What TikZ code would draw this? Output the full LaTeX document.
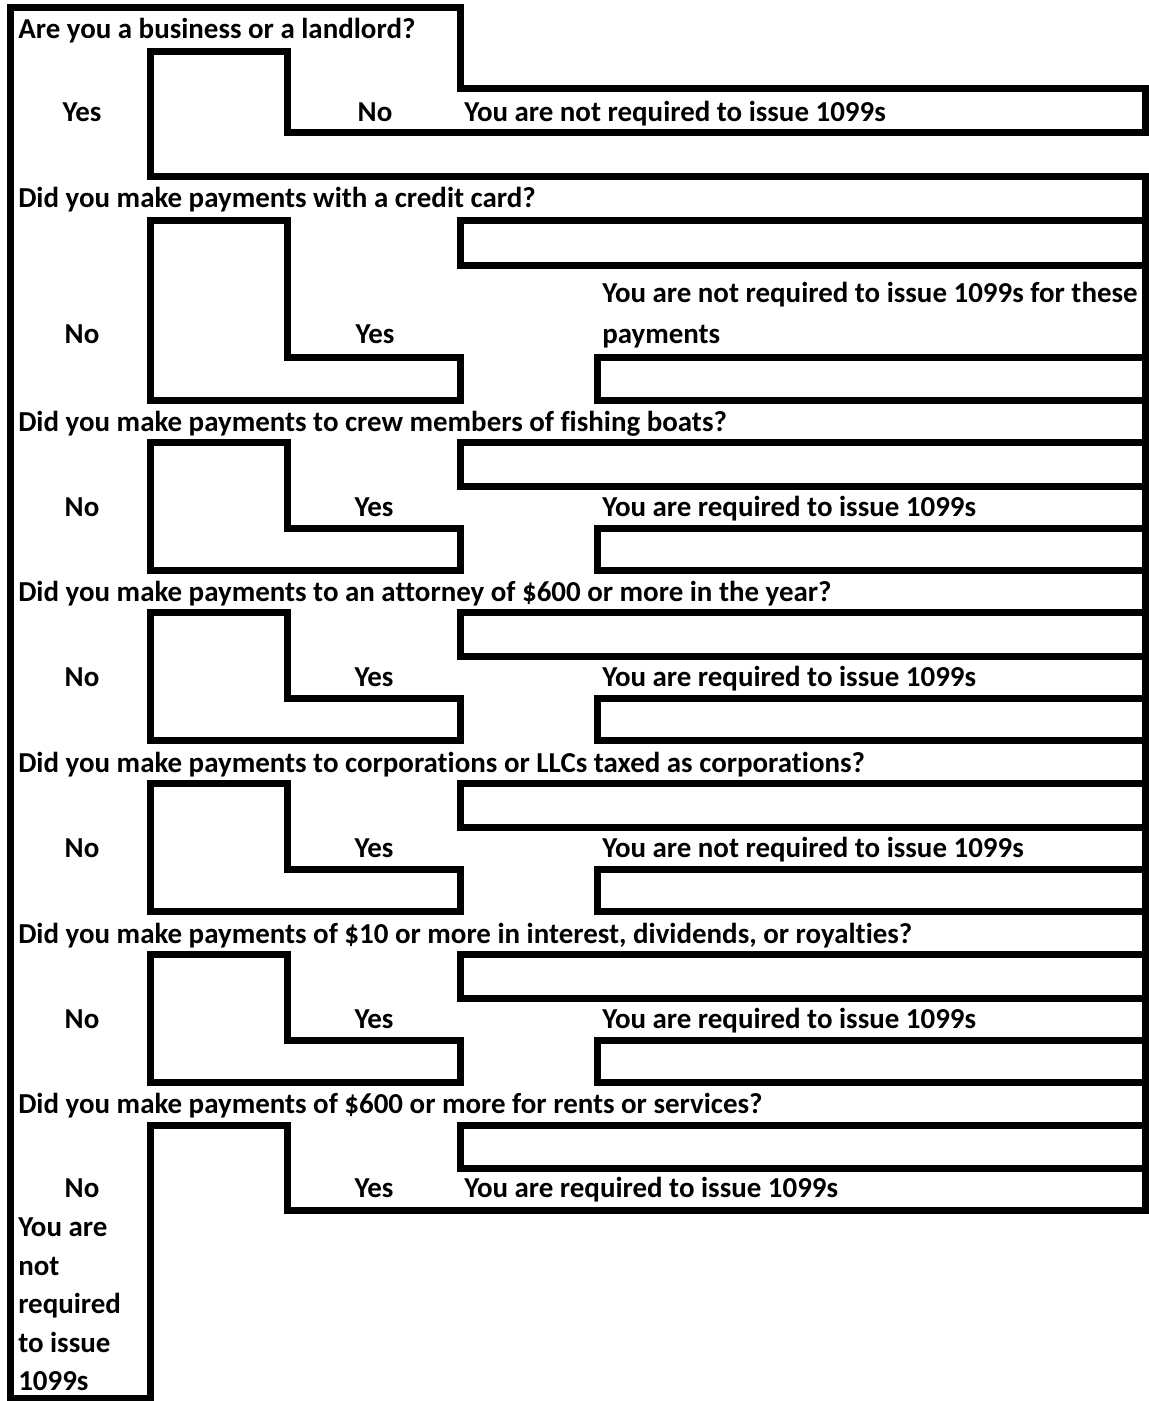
\documentclass[tikz,border=0pt]{standalone}
\usepackage{fontspec}
\setmainfont{Carlito}[RawFeature={-liga;-clig}]
\newcommand\qfont{\fontsize{21.7}{29}\selectfont\bfseries}
\begin{document}
\begin{tikzpicture}[x=0.75pt,y=-0.75pt,
  frame/.style={line width=5.25pt, line join=miter},
  txt/.style={inner sep=0pt, anchor=base west, font=\qfont},
  mid/.style={inner sep=0pt, anchor=base, font=\qfont}]
\useasboundingbox[fill=white] (0,0) rectangle (1148,1401);
% main outline
\draw[frame] (1145,133) -- (1145,89) -- (460,89) -- (460,8) -- (10,8) -- (10,1398)
  -- (150,1398) -- (150,1125) -- (287,1125) -- (287,1210) -- (1145,1210) -- (1145,177)
  -- (150,177) -- (150,52) -- (287,52) -- (287,133) -- cycle;
% section 2
\draw[frame] (287,221) -- (150,221) -- (150,400) -- (460,400) -- (460,357) -- (287,357) -- cycle;
\draw[frame] (460,221) rectangle (1145,266);
\draw[frame] (597,357) rectangle (1145,400);
% sections 3-6
\foreach \s in {400,570,741,912}{
  \draw[frame] (287,\s+42) -- (150,\s+42) -- (150,\s+170) -- (460,\s+170) -- (460,\s+128) -- (287,\s+128) -- cycle;
  \draw[frame] (460,\s+42) rectangle (1145,\s+86);
  \draw[frame] (597,\s+128) rectangle (1145,\s+170);
}
% section 7
\draw[frame] (460,1125) rectangle (1145,1168);
% texts
\node[txt] (q1) at (18,39) {Are you a business or a landlord?};
\node[mid] (y1) at (82,122) {Yes};
\node[mid] (n1) at (375,122) {No};
\node[txt] (r1) at (464,122) {You are not required to issue 1099s};
\node[txt] (q2) at (18,208) {Did you make payments with a credit card?};
\node[mid] (n2) at (82,343) {No};
\node[mid] (y2) at (375,343) {Yes};
\node[txt] (r2a) at (602,303) {You are not required to issue 1099s for these};
\node[txt] (r2b) at (602,343) {payments};
\node[txt] (q3) at (18,431) {Did you make payments to crew members of fishing boats?};
\node[mid] (n3) at (82,516) {No};
\node[mid] (y3) at (374,516) {Yes};
\node[txt] (r3) at (602,516) {You are required to issue 1099s};
\node[txt] (q4) at (18,601) {Did you make payments to an attorney of \$600 or more in the year?};
\node[mid] (n4) at (82,686) {No};
\node[mid] (y4) at (374,686) {Yes};
\node[txt] (r4) at (602,686) {You are required to issue 1099s};
\node[txt] (q5) at (18,772) {Did you make payments to corporations or LLCs taxed as corporations?};
\node[mid] (n5) at (82,857) {No};
\node[mid] (y5) at (374,857) {Yes};
\node[txt] (r5) at (602,857) {You are not required to issue 1099s};
\node[txt] (q6) at (18,943) {Did you make payments of \$10 or more in interest, dividends, or royalties?};
\node[mid] (n6) at (82,1028) {No};
\node[mid] (y6) at (374,1028) {Yes};
\node[txt] (r6) at (602,1028) {You are required to issue 1099s};
\node[txt] (q7) at (18,1113) {Did you make payments of \$600 or more for rents or services?};
\node[mid] (n7) at (82,1197) {No};
\node[mid] (y7) at (374,1197) {Yes};
\node[txt] (r7) at (464,1197) {You are required to issue 1099s};
\node[txt] (la) at (18,1236) {You are};
\node[txt] (lb) at (18,1275) {not};
\node[txt] (lc) at (18,1313) {required};
\node[txt] (ld) at (18,1352) {to issue};
\node[txt] (le) at (18,1390) {1099s};
\end{tikzpicture}
\end{document}
